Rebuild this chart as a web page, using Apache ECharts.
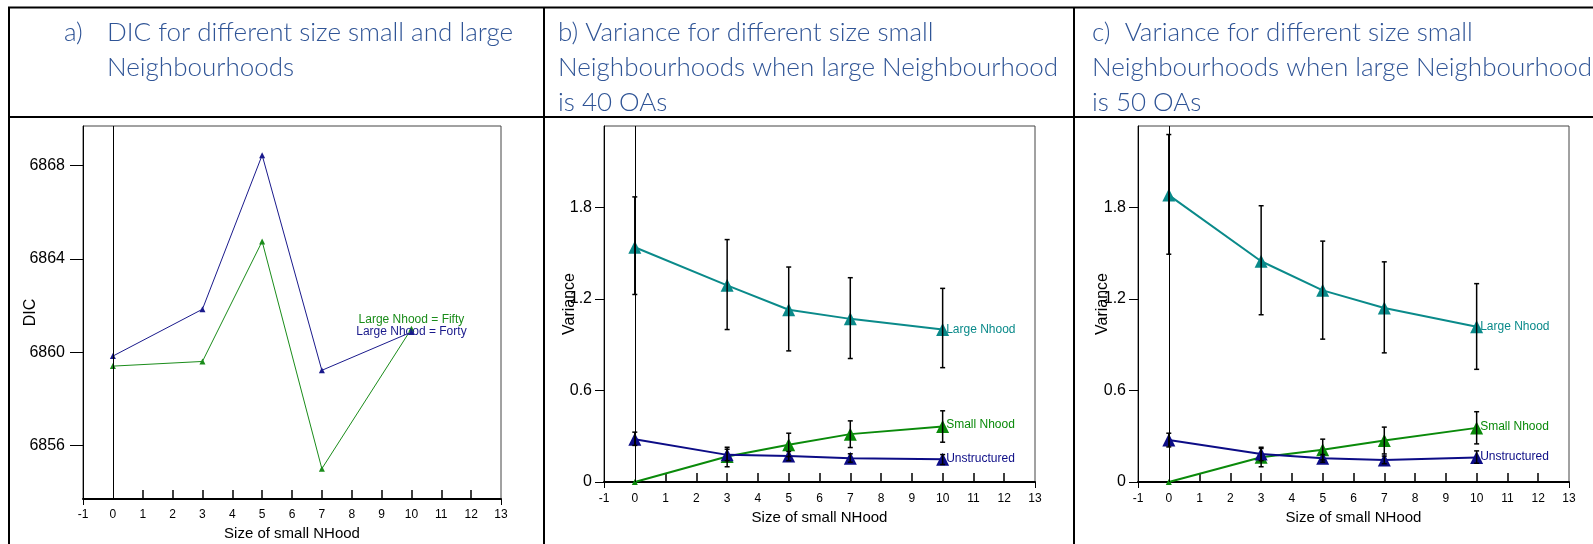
<!DOCTYPE html>
<html>
<head>
<meta charset="utf-8">
<script src="https://cdn.jsdelivr.net/npm/echarts@6/dist/echarts.min.js"></script>
<style>
html,body{margin:0;padding:0;background:#fff;}
#chart{width:1593px;height:544px;}
</style>
</head>
<body>
<div id="chart"></div>
<script>
// ---------- data ----------
const sizes = [0, 3, 5, 7, 10];
const xTickLabels = [-1,0,1,2,3,4,5,6,7,8,9,10,11,12,13];
const dicTicks = [6856, 6860, 6864, 6868];
const varTicks = [0, 0.6, 1.2, 1.8];

// panel a: DIC
const dicFifty = [6859.4, 6859.6, 6864.75, 6855.0, 6861.0];
const dicForty = [6859.83, 6861.84, 6868.45, 6859.22, 6860.86];

// panel b: large Nhood = 40 OAs
const bLarge   = [1.54, 1.29, 1.13, 1.07, 1.00];
const bLargeLo = [1.23, 1.00, 0.86, 0.81, 0.75];
const bLargeHi = [1.87, 1.59, 1.41, 1.34, 1.27];
const bSmall   = [0.0, 0.167, 0.244, 0.314, 0.364];
const bSmallLo = [null, 0.10, 0.167, 0.226, 0.261];
const bSmallHi = [null, 0.228, 0.320, 0.401, 0.467];
const bUnstr   = [0.281, 0.178, 0.171, 0.156, 0.149];
const bUnstrLo = [0.24, 0.14, 0.14, 0.13, 0.115];
const bUnstrHi = [0.327, 0.215, 0.20, 0.185, 0.18];

// panel c: large Nhood = 50 OAs
const cLarge   = [1.882, 1.448, 1.257, 1.141, 1.018];
const cLargeLo = [1.494, 1.097, 0.937, 0.847, 0.739];
const cLargeHi = [2.279, 1.812, 1.580, 1.444, 1.301];
const cSmall   = [0.0, 0.162, 0.211, 0.272, 0.355];
const cSmallLo = [null, 0.10, 0.145, 0.184, 0.250];
const cSmallHi = [null, 0.228, 0.281, 0.36, 0.461];
const cUnstr   = [0.276, 0.184, 0.156, 0.145, 0.160];
const cUnstrLo = [0.23, 0.14, 0.13, 0.12, 0.123];
const cUnstrHi = [0.32, 0.22, 0.18, 0.17, 0.204];

// ---------- styles ----------
const TEAL = '#0a8a8a', GREEN = '#0a8a0a', NAVY = '#0c0c86';
const HEAD = '#2F5496';
const AX = 'Liberation Sans, Arial, sans-serif';
const HF = 'Lato, "Open Sans", sans-serif';

const grids = [
  {left: 83,   right: 1092, top: 126, bottom: 45},
  {left: 604,  right: 558,  top: 126, bottom: 62},
  {left: 1138, right: 24,   top: 126, bottom: 62}
];
grids.forEach(g => {
  g.show = true; g.borderColor = '#444'; g.borderWidth = 1; g.backgroundColor = 'transparent';
  g.outerBoundsMode = 'none'; g.containLabel = false;
});

function mainX(i, gap, margin) {
  return {
    type: 'value', gridIndex: i, min: -1, max: 13,
    name: 'Size of small NHood', nameLocation: 'middle', nameGap: gap, nameMoveOverlap: false,
    nameTextStyle: {fontFamily: AX, fontSize: 15, color: '#000'},
    axisLine: {show: true, onZero: false, lineStyle: {color: '#000', width: 2}},
    axisTick: {show: true, inside: true, length: 9, customValues: [1,2,3,4,5,6,7,8,9,10,11,12], lineStyle: {color: '#000', width: 1.5}},
    axisLabel: {customValues: xTickLabels, fontFamily: AX, fontSize: 12, color: '#000', margin: margin, showMinLabel: true, showMaxLabel: true},
    splitLine: {show: false}
  };
}
function outerX(i) {
  return {
    type: 'value', gridIndex: i, min: -1, max: 13, position: 'bottom',
    axisLine: {show: false},
    axisTick: {show: true, inside: false, length: 6, customValues: [-1, 13], lineStyle: {color: '#000', width: 1}},
    axisLabel: {show: false}, splitLine: {show: false}
  };
}
function yAxisOf(i, name, min, max, ticks, gap, fmt, tickLen, margin) {
  return {
    type: 'value', gridIndex: i, min: min, max: max,
    name: name, nameLocation: 'middle', nameGap: gap, nameMoveOverlap: false,
    nameTextStyle: {fontFamily: AX, fontSize: 16, color: '#000'},
    axisLine: {show: true, onZero: false, lineStyle: {color: '#000', width: 1}},
    axisTick: {show: true, inside: false, length: tickLen, customValues: ticks, lineStyle: {color: '#000', width: 1}},
    axisLabel: {customValues: ticks, fontFamily: AX, fontSize: 16, color: '#000', margin: margin, formatter: fmt},
    splitLine: {show: false}
  };
}

function zeroLine() {
  return {silent: true, symbol: 'none', label: {show: false},
          lineStyle: {color: '#000', width: 1, type: 'solid'}, data: [{xAxis: 0}]};
}

function lineSeries(i, name, ys, color, opts) {
  const o = opts || {};
  const data = sizes.map((x, k) => {
    const item = {value: [x, ys[k]]};
    if (o.firstSize != null && k === 0) item.symbolSize = o.firstSize;
    if (k === sizes.length - 1 && o.label) item.label = Object.assign({show: true, color: color, fontFamily: AX, fontSize: 12}, o.label);
    return item;
  });
  const s = {
    type: 'line', name: name, xAxisIndex: i, yAxisIndex: i, data: data,
    symbol: 'triangle', symbolSize: o.size || 13,
    itemStyle: {color: color}, lineStyle: {color: color, width: o.width || 2},
    z: 3, label: {show: false}
  };
  if (o.zero) s.markLine = zeroLine();
  return s;
}

function errSeries(i, lo, hi) {
  const data = [];
  sizes.forEach((x, k) => { if (lo[k] != null) data.push([x, lo[k], hi[k]]); });
  return {
    type: 'custom', xAxisIndex: i, yAxisIndex: i, data: data, z: 5,
    encode: {x: 0, y: [1, 2]},
    renderItem: function (params, api) {
      const x = api.value(0);
      const a = api.coord([x, api.value(2)]);
      const b = api.coord([x, api.value(1)]);
      const w = 2.5;
      const st = {stroke: '#000', lineWidth: 1.5};
      return {type: 'group', children: [
        {type: 'line', shape: {x1: a[0], y1: a[1], x2: b[0], y2: b[1]}, style: st},
        {type: 'line', shape: {x1: a[0] - w, y1: a[1], x2: a[0] + w, y2: a[1]}, style: st},
        {type: 'line', shape: {x1: b[0] - w, y1: b[1], x2: b[0] + w, y2: b[1]}, style: st}
      ]};
    }
  };
}

// ---------- table / headers ----------
function hline(y, x1, x2) { return {type: 'line', shape: {x1: x1, y1: y, x2: x2, y2: y}, style: {stroke: '#000', lineWidth: 2}, z: 10}; }
function vline(x, y1, y2) { return {type: 'line', shape: {x1: x, y1: y1, x2: x, y2: y2}, style: {stroke: '#000', lineWidth: 2}, z: 10}; }
function htext(x, y, t) {
  return {type: 'text', x: x, y: y, z: 10,
          style: {text: t, fill: HEAD, font: '300 26px ' + HF, lineHeight: 35, textVerticalAlign: 'top'}};
}

const graphics = [
  hline(7.5, 8, 1593), hline(117, 8, 1593),
  vline(9, 7, 544), vline(544, 7, 544), vline(1074, 7, 544),
  htext(64, 15, 'a)'),
  htext(107, 15, 'DIC for different size small and large\nNeighbourhoods'),
  htext(558, 15, 'b) Variance for different size small\nNeighbourhoods when large Neighbourhood\nis 40 OAs'),
  htext(1092, 15, 'c)  Variance for different size small\nNeighbourhoods when large Neighbourhood\nis 50 OAs')
];

const fmtDic = v => String(v);
const fmtVar = v => (v === 0 ? '0' : v.toFixed(1));

const option = {
  animation: false,
  backgroundColor: '#fff',
  grid: grids,
  xAxis: [mainX(0, 27, 10), mainX(1, 28, 11), mainX(2, 28, 11), outerX(0), outerX(1), outerX(2)],
  yAxis: [
    yAxisOf(0, 'DIC', 6853.7, 6869.7, dicTicks, 44, fmtDic, 13, 18),
    yAxisOf(1, 'Variance', 0, 2.335, varTicks, 26, fmtVar, 9, 12),
    yAxisOf(2, 'Variance', 0, 2.335, varTicks, 27, fmtVar, 9, 12)
  ],
  graphic: graphics,
  series: [
    // panel a
    lineSeries(0, 'Large Nhood = Fifty', dicFifty, '#1a8c1a', {size: 6, width: 1, zero: true,
      label: {position: 'top', distance: 0, formatter: 'Large Nhood = Fifty'}}),
    lineSeries(0, 'Large Nhood = Forty', dicForty, '#1a1a8c', {size: 6, width: 1,
      label: {position: 'inside', formatter: 'Large Nhood = Forty'}}),
    // panel b
    lineSeries(1, 'Large Nhood', bLarge, TEAL, {zero: true, label: {position: 'right', distance: -3, formatter: 'Large Nhood'}}),
    lineSeries(1, 'Small Nhood', bSmall, GREEN, {firstSize: 6, label: {position: 'right', distance: -3, formatter: 'Small Nhood', offset: [0, -2]}}),
    lineSeries(1, 'Unstructured', bUnstr, NAVY, {label: {position: 'right', distance: -3, formatter: 'Unstructured', offset: [0, -1]}}),
    errSeries(1, bLargeLo, bLargeHi),
    errSeries(1, bSmallLo, bSmallHi),
    errSeries(1, bUnstrLo, bUnstrHi),
    // panel c
    lineSeries(2, 'Large Nhood', cLarge, TEAL, {zero: true, label: {position: 'right', distance: -3, formatter: 'Large Nhood'}}),
    lineSeries(2, 'Small Nhood', cSmall, GREEN, {firstSize: 6, label: {position: 'right', distance: -3, formatter: 'Small Nhood', offset: [0, -1]}}),
    lineSeries(2, 'Unstructured', cUnstr, NAVY, {label: {position: 'right', distance: -3, formatter: 'Unstructured', offset: [0, -1]}}),
    errSeries(2, cLargeLo, cLargeHi),
    errSeries(2, cSmallLo, cSmallHi),
    errSeries(2, cUnstrLo, cUnstrHi)
  ]
};

const chart = echarts.init(document.getElementById('chart'), null, {renderer: 'canvas'});
chart.setOption(option);
</script>
</body>
</html>
